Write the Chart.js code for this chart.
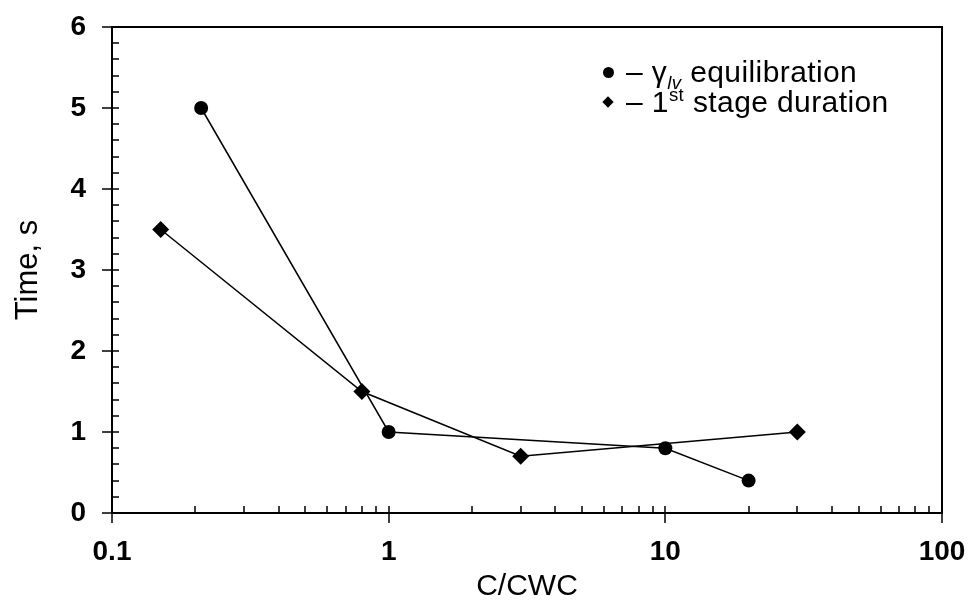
<!DOCTYPE html>
<html lang="en">
<head>
<meta charset="UTF-8">
<title>Time vs C/CWC</title>
<script src="https://cdn.jsdelivr.net/npm/chart.js"></script>
<style>
  body { margin: 0; background: #fff; }
  #wrap { position: relative; width: 974px; height: 608px; }
  .row { position: absolute; left: 600px; height: 30px; font-family: 'Liberation Sans', Arial, sans-serif; font-size: 30px; line-height: 30px; color: #000; white-space: nowrap; }
  .mk { position: absolute; left: 3px; background: #000; }
  .dot { width: 11px; height: 11px; border-radius: 50%; top: 10px; }
  .dia { width: 8px; height: 8px; transform: rotate(45deg); top: 11px; left: 4px; }
  .txt { position: absolute; left: 26px; top: 0; letter-spacing: 0.4px; }
  sub, sup { font-size: 62%; line-height: 0; }
  sub { font-style: italic; }
</style>
</head>
<body>
<div id="wrap">
  <canvas id="viz" width="974" height="608"></canvas>
  <div class="row" style="top:57px"><span class="mk dot"></span><span class="txt">– γ<sub>lv</sub> equilibration</span></div>
  <div class="row" style="top:87px"><span class="mk dia"></span><span class="txt">– 1<sup>st</sup> stage duration</span></div>
</div>

<script>
  // axis ticks
  const xTicks = [0.1, 1, 10, 100]
  const yTicks = [0, 1, 2, 3, 4, 5, 6]

  // gamma_lv equilibration (circles)
  const gammaX = [0.21, 1, 10, 20]
  const gammaY = [5.0, 1.0, 0.8, 0.4]

  // 1st stage duration (diamonds)
  const stageX = [0.15, 0.8, 3, 30]
  const stageY = [3.5, 1.5, 0.7, 1.0]

  const toPoints = (xs, ys) => xs.map((x, i) => ({ x: x, y: ys[i] }))
  const decades = [0.1, 1, 10]
  const fontFam = "'Liberation Sans', Arial, sans-serif"

  // frame + tick marks like the original plot
  const frameTicks = {
    id: 'frameTicks',
    afterDatasetsDraw(chart) {
      const { ctx, chartArea: a, scales: { x, y } } = chart
      ctx.save()
      ctx.strokeStyle = '#000'
      ctx.lineWidth = 2
      ctx.strokeRect(a.left, a.top, a.right - a.left, a.bottom - a.top)

      ctx.lineWidth = 1.5
      ctx.beginPath()
      // y major ticks
      yTicks.forEach(v => {
        const py = Math.round(y.getPixelForValue(v))
        ctx.moveTo(a.left - 10, py); ctx.lineTo(a.left + 7, py)
      })
      // y minor ticks
      for (let i = 0; i < 30; i++) {
        if (i % 5 === 0) continue
        const py = Math.round(y.getPixelForValue(i * 0.2))
        ctx.moveTo(a.left, py); ctx.lineTo(a.left + 7, py)
      }
      // x major ticks
      xTicks.forEach(v => {
        const px = Math.round(x.getPixelForValue(v))
        ctx.moveTo(px, a.bottom + 10); ctx.lineTo(px, a.bottom - 7)
      })
      // x minor ticks
      decades.forEach(d => {
        for (let k = 2; k <= 9; k++) {
          const px = Math.round(x.getPixelForValue(d * k))
          ctx.moveTo(px, a.bottom); ctx.lineTo(px, a.bottom - 7)
        }
      })
      ctx.stroke()
      ctx.restore()
    }
  }

  const chart = new Chart(document.getElementById('viz'), {
    type: 'scatter',
    data: {
      datasets: [{
        label: 'γlv equilibration',
        data: toPoints(gammaX, gammaY),
        showLine: true,
        borderColor: '#000',
        borderWidth: 1.5,
        pointStyle: 'circle',
        pointRadius: 7,
        backgroundColor: '#000',
        pointBorderWidth: 0
      }, {
        label: '1st stage duration',
        data: toPoints(stageX, stageY),
        showLine: true,
        borderColor: '#000',
        borderWidth: 1.5,
        pointStyle: 'rectRot',
        pointRadius: 8.5,
        backgroundColor: '#000',
        pointBorderWidth: 0
      }]
    },
    options: {
      responsive: false,
      animation: false,
      layout: { padding: { top: 27, right: 32, left: 0, bottom: 0 } },
      plugins: { legend: { display: false }, tooltip: { enabled: false } },
      scales: {
        x: {
          type: 'logarithmic',
          min: 0.1,
          max: 100,
          afterBuildTicks: s => { s.ticks = xTicks.map(v => ({ value: v })) },
          afterFit: s => { s.height = 95; s.paddingLeft = 0; s.paddingRight = 0 },
          grid: { display: false, drawTicks: false },
          border: { display: false },
          ticks: {
            color: '#000',
            padding: 22,
            font: { family: fontFam, size: 28, weight: 'bold' },
            callback: v => String(v),
            maxRotation: 0,
            autoSkip: false
          },
          title: {
            display: true,
            text: 'C/CWC',
            color: '#000',
            padding: { top: 0, bottom: 3 },
            font: { family: fontFam, size: 30 }
          }
        },
        y: {
          min: 0,
          max: 6,
          afterBuildTicks: s => { s.ticks = yTicks.map(v => ({ value: v })) },
          afterFit: s => { s.width = 112; s.paddingTop = 0; s.paddingBottom = 0 },
          grid: { display: false, drawTicks: false },
          border: { display: false },
          ticks: {
            color: '#000',
            padding: 26,
            font: { family: fontFam, size: 28, weight: 'bold' }
          },
          title: {
            display: true,
            text: 'Time, s',
            color: '#000',
            padding: { top: 10, bottom: 0 },
            font: { family: fontFam, size: 31 }
          }
        }
      }
    },
    plugins: [frameTicks]
  })
</script>
</body>
</html>
